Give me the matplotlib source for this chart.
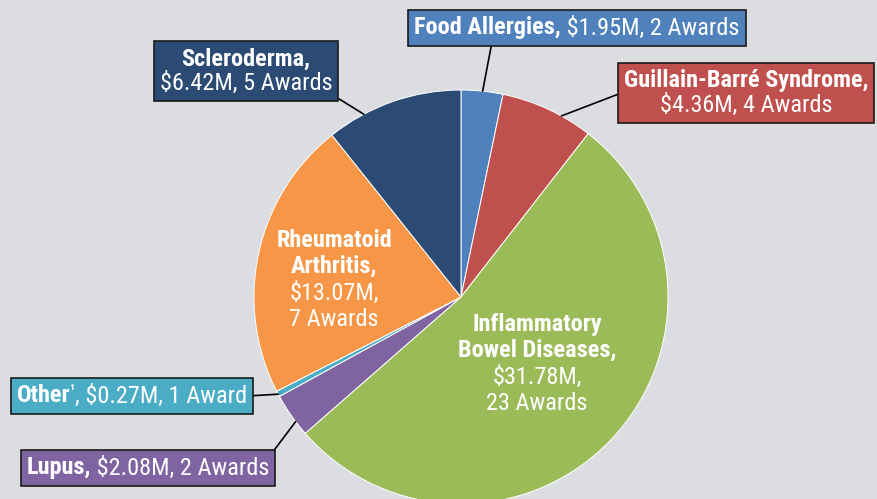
import numpy as np
import matplotlib
matplotlib.use('Agg')
import matplotlib.pyplot as plt
from matplotlib import font_manager as fm
from matplotlib.offsetbox import TextArea, HPacker, VPacker, AnnotationBbox

# datos del grafico (millones de dolares, premios)
categorias = ["Food Allergies", "Guillain-Barré Syndrome", "Inflammatory Bowel Diseases",
              "Lupus", "Other", "Rheumatoid Arthritis", "Scleroderma"]
montos = [1.95, 4.36, 31.78, 2.08, 0.27, 13.07, 6.42]
premios = [2, 4, 23, 2, 1, 7, 5]
colores = ["#4f81bd", "#c0504d", "#9bbb59", "#8064a2", "#4bacc6", "#f79646", "#2b4b74"]

# lineas de texto de cada etiqueta: (texto, negrita)
etiquetas = {
    "Food Allergies": [[("Food Allergies,", True), (" $1.95M, 2 Awards", False)]],
    "Guillain-Barré Syndrome": [[("Guillain-Barré Syndrome,", True)],
                                [("$4.36M, 4 Awards", False)]],
    "Inflammatory Bowel Diseases": [[("Inflammatory", True)], [("Bowel Diseases,", True)],
                                    [("$31.78M,", False)], [("23 Awards", False)]],
    "Lupus": [[("Lupus,", True), (" $2.08M, 2 Awards", False)]],
    "Other": [[("Other", True), ("¹", True), (", $0.27M, 1 Award", False)]],
    "Rheumatoid Arthritis": [[("Rheumatoid", True)], [("Arthritis,", True)],
                             [("$13.07M,", False)], [("7 Awards", False)]],
    "Scleroderma": [[("Scleroderma,", True)], [("$6.42M, 5 Awards", False)]],
}

# posicion de las etiquetas (pixeles, y hacia arriba), caja, angulo de la guia,
# punto de salida de la guia en la caja
pos_etiquetas = {
    "Food Allergies": (577, 471, True, 84, (0.24, 0)),
    "Guillain-Barré Syndrome": (746, 406, True, 61, (0, 0.52)),
    "Inflammatory Bowel Diseases": (537, 135, False, None, None),
    "Lupus": (148, 31, True, 217, (1, 1)),
    "Other": (132, 103, True, 208, (1, 0.5)),
    "Rheumatoid Arthritis": (334, 219, False, None, None),
    "Scleroderma": (246, 428, True, 118, (1, 0)),
}

# fuente condensada si existe
nombres = {f.name for f in fm.fontManager.ttflist}
familia = "DejaVu Sans"
estirar = "normal"
for cand in ["Roboto Condensed", "Liberation Sans Narrow", "Open Sans Condensed"]:
    if cand in nombres:
        familia = cand
        break
else:
    if any(f.name == "DejaVu Sans" and f.stretch == "condensed" for f in fm.fontManager.ttflist):
        estirar = "condensed"

FONDO = "#dcdde1"
TAM = 17.5
W, H = 877, 499
fig = plt.figure(figsize=(W / 100, H / 100), dpi=100, facecolor=FONDO)
ax = fig.add_axes([0, 0, 1, 1])

cx, cy, r = 461, 202, 207
wedges, _ = ax.pie(montos, colors=colores, startangle=90, counterclock=False,
                   center=(cx, cy), radius=r, frame=True,
                   wedgeprops=dict(edgecolor="white", linewidth=0.7))
ax.set_xlim(0, W)
ax.set_ylim(0, H)
ax.set_aspect("equal")
ax.axis("off")


def hacer_caja(lineas, sep):
    filas = []
    for linea in lineas:
        partes = []
        for txt, negrita in linea:
            tam = TAM
            if txt == "¹":
                tam = 11
            props = dict(color="white", fontsize=tam, family=familia, fontstretch=estirar,
                         fontweight="bold" if negrita else "normal")
            partes.append(TextArea(txt, textprops=props))
        filas.append(HPacker(children=partes, align="top", pad=0, sep=0))
    return VPacker(children=filas, align="center", pad=0, sep=sep)


for nombre, w, color in zip(categorias, wedges, colores):
    x, y, caja, ang_guia, salida = pos_etiquetas[nombre]
    if caja:
        contenido = hacer_caja(etiquetas[nombre], 1)
        ang = np.deg2rad(ang_guia)
        punto = (cx + r * np.cos(ang), cy + r * np.sin(ang))
        ab = AnnotationBbox(contenido, punto, xybox=(x, y), xycoords="data",
                            boxcoords="data", frameon=True, pad=0.25, fontsize=TAM,
                            bboxprops=dict(facecolor=color, edgecolor="#1a1a1a",
                                           linewidth=1.2, boxstyle="square,pad=0.25"),
                            arrowprops=dict(arrowstyle="-", color="black", lw=1.2,
                                            shrinkA=0, shrinkB=0, relpos=salida))
    else:
        contenido = hacer_caja(etiquetas[nombre], 2.5)
        ab = AnnotationBbox(contenido, (x, y), xycoords="data", frameon=False)
    ax.add_artist(ab)

fig.savefig("out.png", dpi=100, facecolor=FONDO)
plt.close(fig)
